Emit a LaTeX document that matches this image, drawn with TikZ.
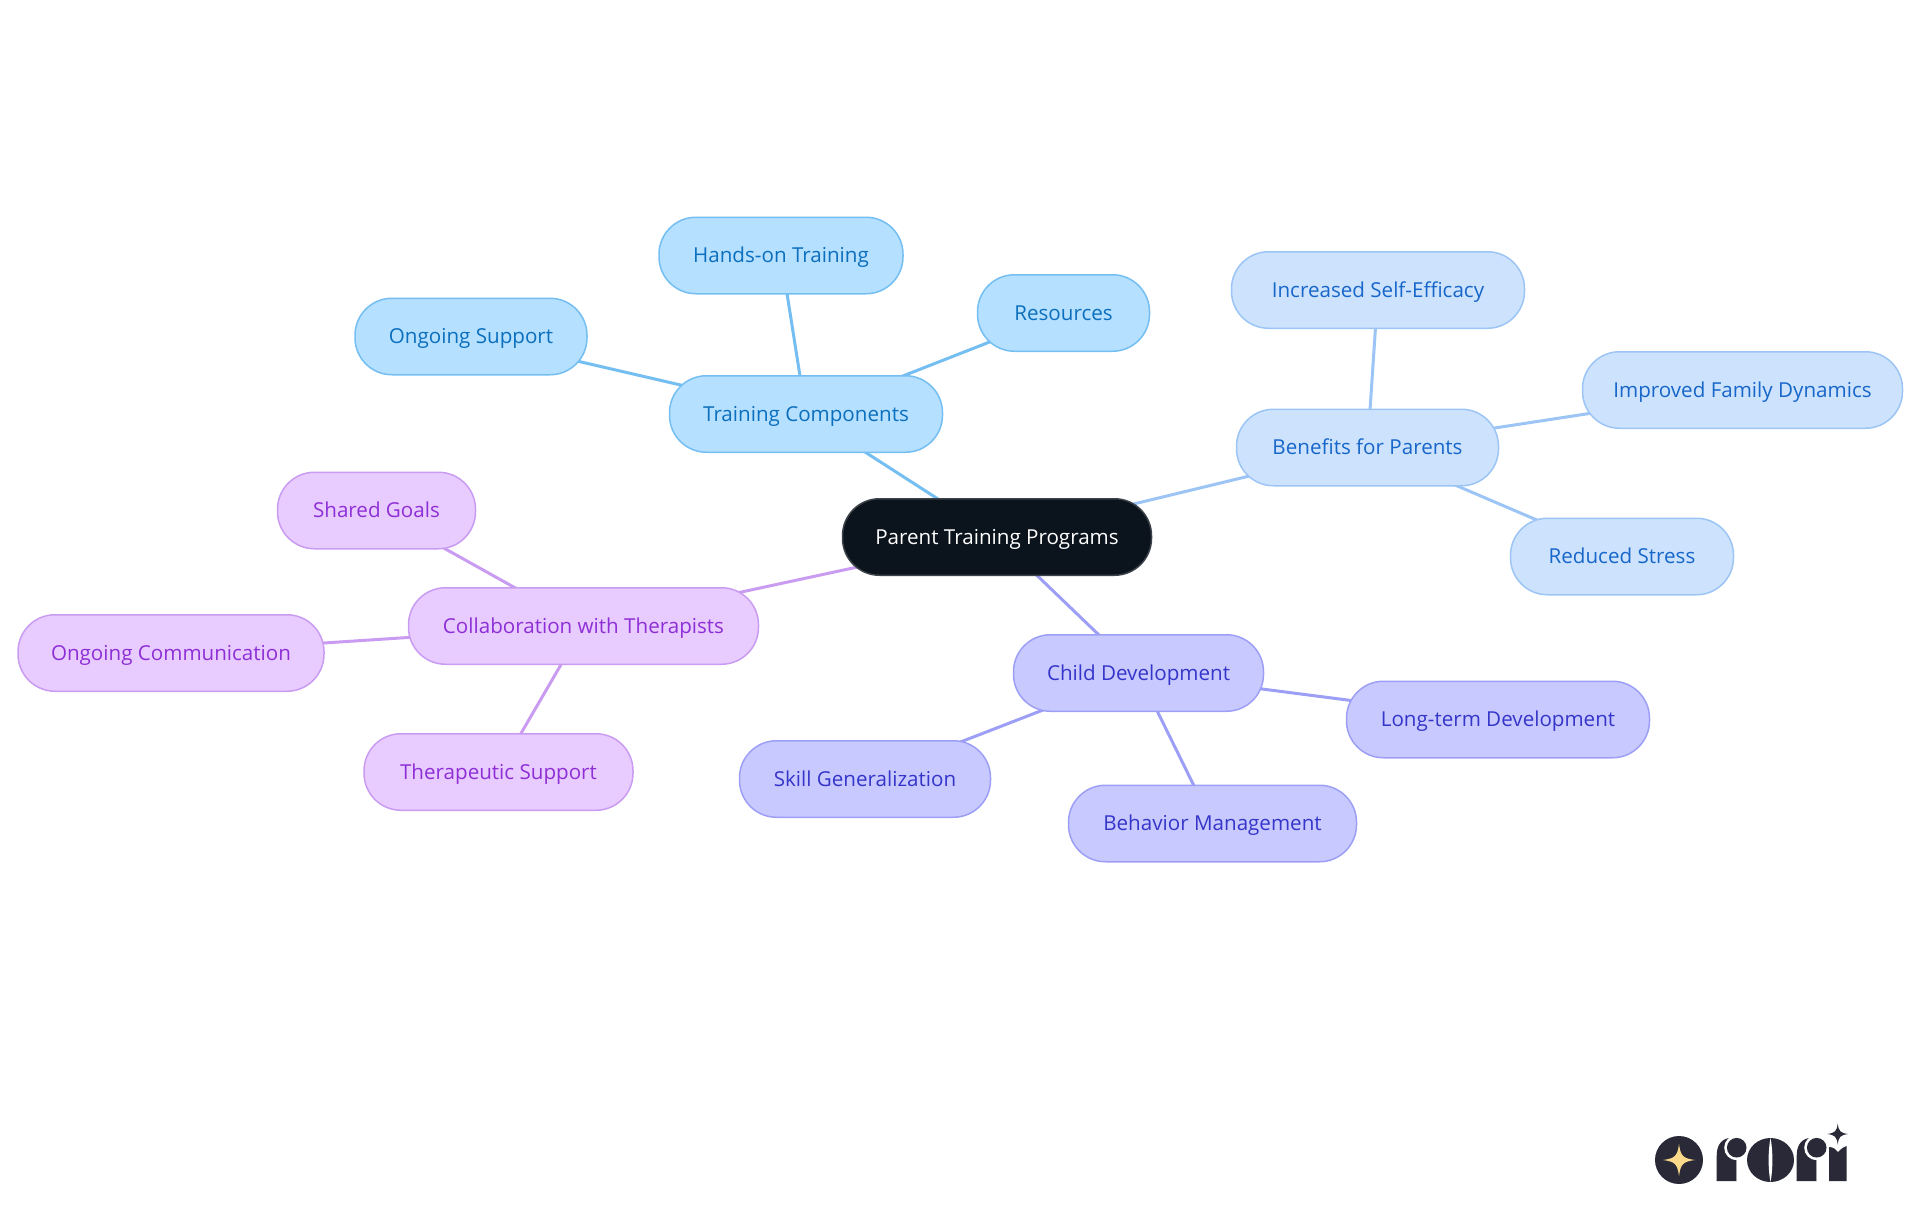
\documentclass[tikz,border=0pt]{standalone}
\usepackage{fontspec}
\setmainfont{Open Sans}
\usetikzlibrary{backgrounds}

\definecolor{rootfill}{HTML}{0B131C}
\definecolor{rootline}{HTML}{3C4249}
\definecolor{trainfill}{HTML}{B5E0FF}
\definecolor{trainline}{HTML}{74BEF2}
\definecolor{traintext}{HTML}{0B6FBD}
\definecolor{benefill}{HTML}{CDE3FD}
\definecolor{beneline}{HTML}{9CC5F5}
\definecolor{benetext}{HTML}{1766C9}
\definecolor{childfill}{HTML}{C8CAFF}
\definecolor{childline}{HTML}{9C9FF5}
\definecolor{childtext}{HTML}{3535C9}
\definecolor{collabfill}{HTML}{E8CBFF}
\definecolor{collabline}{HTML}{C99CF2}
\definecolor{collabtext}{HTML}{8E2FD6}
\definecolor{logodark}{HTML}{2A2937}
\definecolor{logostar}{HTML}{FBD98B}

\tikzset{
	pill/.style={rounded corners=37, minimum height=76.5, minimum width=#1-1, inner sep=0, line width=1.5, text height=18, text depth=4, font=\fontsize{20.6}{25}\selectfont},
	rootpill/.style={pill=#1, draw=rootline, fill=rootfill, text=white},
	trainpill/.style={pill=#1, draw=trainline, fill=trainfill, text=traintext},
	benepill/.style={pill=#1, draw=beneline, fill=benefill, text=benetext},
	childpill/.style={pill=#1, draw=childline, fill=childfill, text=childtext},
	collabpill/.style={pill=#1, draw=collabline, fill=collabfill, text=collabtext},
	branch/.style={line width=3}
}

% four pointed star, rounded in at the waist
\newcommand{\logostar}[4]{
	\fill[#4] (#1-#3,#2) .. controls (#1-#3*0.25,#2-#3*0.1) and (#1-#3*0.1,#2-#3*0.25) .. (#1,#2-#3)
		.. controls (#1+#3*0.1,#2-#3*0.25) and (#1+#3*0.25,#2-#3*0.1) .. (#1+#3,#2)
		.. controls (#1+#3*0.25,#2+#3*0.1) and (#1+#3*0.1,#2+#3*0.25) .. (#1,#2+#3)
		.. controls (#1-#3*0.1,#2+#3*0.25) and (#1-#3*0.25,#2+#3*0.1) .. (#1-#3,#2) -- cycle;
}
% stem and ball of the logo's r
\newcommand{\logor}[1]{
	\fill[logodark] (#1,1181) -- (#1,1156) .. controls (#1,1147) and (#1+3,1140) .. (#1+12,1138) -- (#1+20,1138) -- (#1+20,1181) -- cycle;
	\fill[white] (#1+20,1147.7) circle (12.5);
	\fill[white] (#1+20,1160) -- (#1+32,1148) -- (#1+32,1181) -- (#1+20,1181) -- cycle;
	\fill[logodark] (#1+20,1147.7) circle (9.8);
}

\begin{document}
\begin{tikzpicture}[x=1pt, y=-1pt]
	\useasboundingbox (0,0) rectangle (1920,1215);

	\node[rootpill=310] (root) at (997,537) {Parent Training Programs};

	\node[trainpill=274] (training) at (806,414) {Training Components};
	\node[trainpill=245] (handson) at (781,255.5) {Hands-on Training};
	\node[trainpill=173] (resources) at (1063.5,313) {Resources};
	\node[trainpill=233] (support) at (471,336.5) {Ongoing Support};

	\node[benepill=263] (benefits) at (1367.5,447.5) {Benefits for Parents};
	\node[benepill=294] (efficacy) at (1378,290) {Increased Self-Efficacy};
	\node[benepill=321] (family) at (1742.5,390) {Improved Family Dynamics};
	\node[benepill=224] (stress) at (1622,556.5) {Reduced Stress};

	\node[childpill=251] (child) at (1138.5,673) {Child Development};
	\node[childpill=304] (longterm) at (1498,719.5) {Long-term Development};
	\node[childpill=289] (behavior) at (1212.5,823.5) {Behavior Management};
	\node[childpill=252] (skill) at (865,779) {Skill Generalization};

	\node[collabpill=351] (collab) at (583.5,626) {Collaboration with Therapists};
	\node[collabpill=199] (goals) at (376.5,510.5) {Shared Goals};
	\node[collabpill=307] (communication) at (171,653) {Ongoing Communication};
	\node[collabpill=270] (therapeutic) at (498.5,772) {Therapeutic Support};

	\begin{scope}[on background layer]
		\draw[branch, trainline] (root.center) -- (training.center);
		\foreach \leaf in {handson, resources, support}
			\draw[branch, trainline] (training.center) -- (\leaf.center);
		\draw[branch, beneline] (root.center) -- (benefits.center);
		\foreach \leaf in {efficacy, family, stress}
			\draw[branch, beneline] (benefits.center) -- (\leaf.center);
		\draw[branch, childline] (root.center) -- (child.center);
		\foreach \leaf in {longterm, behavior, skill}
			\draw[branch, childline] (child.center) -- (\leaf.center);
		\draw[branch, collabline] (root.center) -- (collab.center);
		\foreach \leaf in {goals, communication, therapeutic}
			\draw[branch, collabline] (collab.center) -- (\leaf.center);
	\end{scope}

	% logo
	\fill[logodark] (1679,1160) circle (24);
	\logostar{1679}{1160}{16}{logostar}
	\logor{1716.7}
	\fill[logodark] (1770.5,1160) ellipse (23.5 and 22);
	\fill[white] (1770.5,1138) .. controls (1768,1150) and (1768,1170) .. (1770.5,1182) .. controls (1773,1170) and (1773,1150) .. (1770.5,1138) -- cycle;
	\logor{1796.7}
	\fill[logodark] (1829,1181) -- (1829,1147) .. controls (1834,1147) and (1836,1150) .. (1838,1152) .. controls (1840,1150) and (1843,1147) .. (1846.7,1146) -- (1846.7,1181) -- cycle;
	\logostar{1837.7}{1134}{10.5}{logodark}
\end{tikzpicture}
\end{document}
